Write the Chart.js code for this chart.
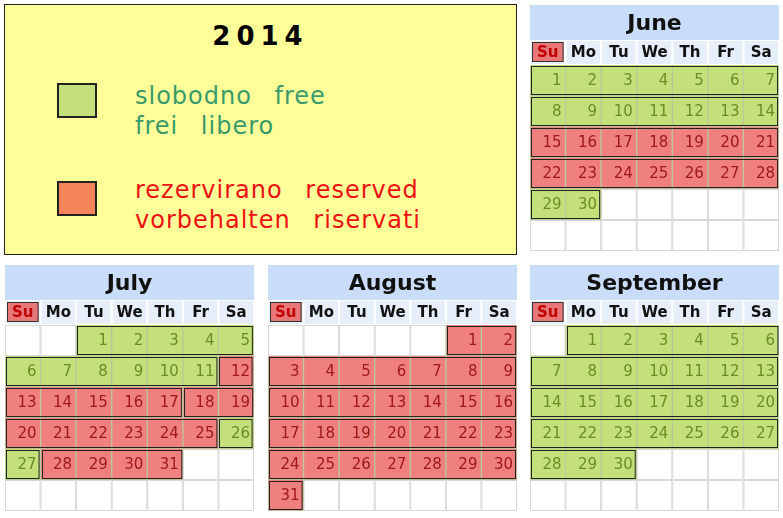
<!DOCTYPE html>
<html><head><meta charset="utf-8">
<script src="https://cdn.jsdelivr.net/npm/chart.js@4/dist/chart.umd.min.js"></script>
<style>
body{margin:0;background:#fff;font-family:"DejaVu Sans",Verdana,sans-serif;}
canvas{position:absolute;}
#leg{position:absolute;left:4px;top:4px;width:511px;height:249px;background:#ffff99;border:1px solid #222;}
.sq{position:absolute;width:36px;height:31px;border:2px solid #222;}
.t{position:absolute;font-family:"DejaVu Sans",Verdana,sans-serif;font-size:24px;letter-spacing:1px;word-spacing:14px;line-height:30px;}
</style></head><body>
<div id="leg">
<div style="position:absolute;left:0;right:0;top:16px;text-align:center;font-weight:bold;font-size:26px;letter-spacing:6px;">2014</div>
<div class="sq" style="left:52px;top:78px;background:#c4e07a;"></div>
<div class="t" style="left:130px;top:76px;color:#3a9a6a;">slobodno free<br>frei libero</div>
<div class="sq" style="left:52px;top:176px;background:#f5845a;"></div>
<div class="t" style="left:130px;top:170px;color:#ee1111;">rezervirano reserved<br>vorbehalten riservati</div>
</div>
<script>
const weekdays = ['Su','Mo','Tu','We','Th','Fr','Sa'];
const monthNames = ['June','July','August','September'];
const firstWeekday = [0,2,5,1];
const daysInMonth = [30,31,31,30];
// booking segments: [start, end, status] f=free r=reserved
const juneSegs = [[1,14,'f'],[15,28,'r'],[29,30,'f']];
const julySegs = [[1,11,'f'],[12,17,'r'],[18,25,'r'],[26,27,'f'],[28,31,'r']];
const augustSegs = [[1,31,'r']];
const septemberSegs = [[1,30,'f']];
const segs = [juneSegs,julySegs,augustSegs,septemberSegs];
const pos = [[530,5],[5,265],[268,265],[530,265]];

const FILL = {f:'#c4e07a', r:'#f08080'};
const TXT = {f:'#6b8e23', r:'#a01818'};

function makeMonth(m){
  const c = document.createElement('canvas');
  c.width=249; c.height=246;
  c.style.left=pos[m][0]+'px'; c.style.top=pos[m][1]+'px';
  document.body.appendChild(c);
  const status = {};
  segs[m].forEach(s=>{for(let d=s[0];d<=s[1];d++) status[d]=s[2];});
  const data=[], bg=[], meta=[];
  for(let d=1; d<=daysInMonth[m]; d++){
    const idx = firstWeekday[m]+d-1;
    const w = Math.floor(idx/7), col = idx%7;
    data.push({x:weekdays[col], y:[w,w+1]});
    bg.push(FILL[status[d]]);
    meta.push({d,w,col,s:status[d]});
  }
  const plug = {
    id:'cal',
    beforeDatasetsDraw(ch){
      const {ctx, chartArea:a, scales:{x,y}} = ch;
      const cw = (a.right-a.left)/7;
      ctx.save();
      // title
      ctx.fillStyle='#c9dcf8'; ctx.fillRect(0,0,ch.width,35);
      ctx.fillStyle='#111'; ctx.font='bold 22px "DejaVu Sans"';
      ctx.textAlign='center'; ctx.textBaseline='middle';
      ctx.fillText(monthNames[m], ch.width/2, 19);
      // header
      weekdays.forEach((wd,i)=>{
        const cx = x.getPixelForValue(i);
        const l = cx-cw/2;
        ctx.fillStyle='#e6eefa'; ctx.fillRect(l+1,36,cw-2,a.top-37);
        if(i===0){ctx.fillStyle='#e87878';ctx.fillRect(l+2,37,cw-4,a.top-40);
          ctx.strokeStyle='#333';ctx.lineWidth=1;ctx.strokeRect(l+2.5,37.5,cw-5,a.top-41);}
        ctx.fillStyle= i===0?'#c00000':'#111';
        ctx.font='bold 15px "DejaVu Sans"';
        ctx.fillText(wd,cx,(36+a.top)/2);
      });
      // empty grid
      ctx.strokeStyle='#d8d8d8'; ctx.lineWidth=1;
      for(let w=0;w<6;w++) for(let i=0;i<7;i++){
        const l=x.getPixelForValue(i)-cw/2, t=y.getPixelForValue(w), b=y.getPixelForValue(w+1);
        ctx.strokeRect(l+0.5,t+0.5,cw-1,b-t-1);
      }
      ctx.restore();
    },
    afterDatasetsDraw(ch){
      const {ctx, chartArea:a, scales:{x,y}} = ch;
      const cw = (a.right-a.left)/7;
      ctx.save();
      ctx.font='15px "DejaVu Sans"'; ctx.textAlign='right'; ctx.textBaseline='middle';
      meta.forEach(o=>{
        ctx.fillStyle=TXT[o.s];
        ctx.fillText(String(o.d), x.getPixelForValue(o.col)+cw/2-4, (y.getPixelForValue(o.w)+y.getPixelForValue(o.w+1))/2+1);
      });
      ctx.strokeStyle='#222'; ctx.lineWidth=1;
      segs[m].forEach(s=>{
        let runs={};
        for(let d=s[0];d<=s[1];d++){const o=meta[d-1];(runs[o.w]=runs[o.w]||[]).push(o.col);}
        Object.keys(runs).forEach(w=>{
          const cols=runs[w]; w=+w;
          const l=x.getPixelForValue(Math.min(...cols))-cw/2, r=x.getPixelForValue(Math.max(...cols))+cw/2;
          const t=y.getPixelForValue(w), b=y.getPixelForValue(w+1);
          ctx.strokeRect(Math.round(l)+1.5,Math.round(t)+1.5,r-l-3,b-t-3);
        });
      });
      ctx.restore();
    }
  };
  new Chart(c,{
    type:'bar',
    data:{labels:weekdays,datasets:[{data,backgroundColor:bg,borderColor:'#b8c89a',borderWidth:1,barPercentage:1,categoryPercentage:1}]},
    options:{responsive:false,animation:false,
      layout:{padding:{top:60,left:0,right:0,bottom:0}},
      plugins:{legend:{display:false},tooltip:{enabled:false}},
      scales:{x:{display:false,offset:true},y:{display:false,min:0,max:6,reverse:true}}},
    plugins:[plug]
  });
}
for(let m=0;m<4;m++) makeMonth(m);
</script>
</body></html>
